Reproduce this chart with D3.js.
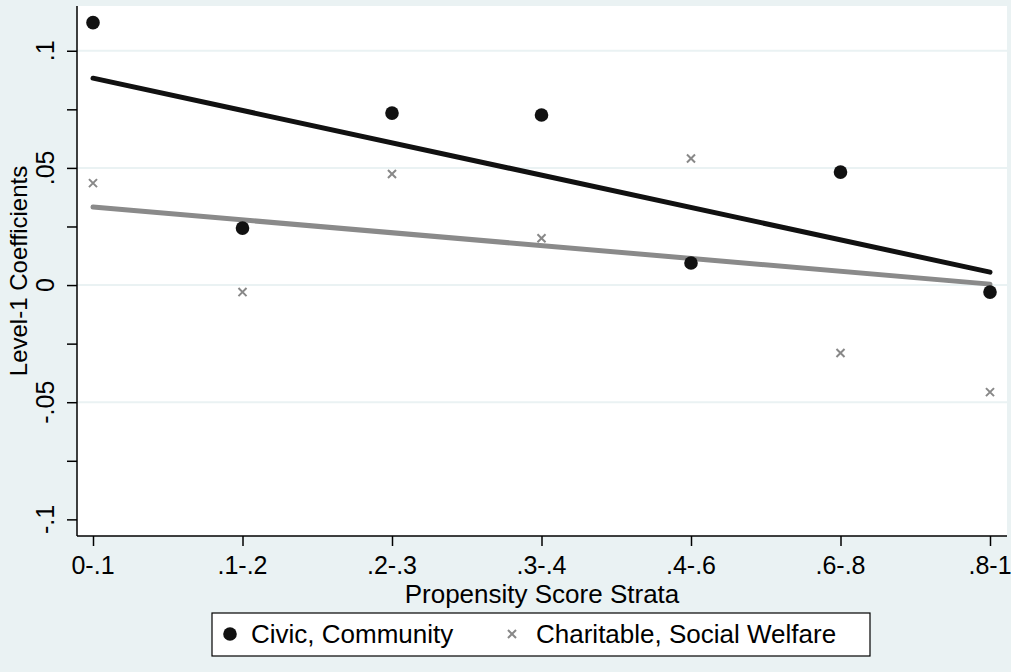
<!DOCTYPE html>
<html>
<head>
<meta charset="utf-8">
<script src="https://cdnjs.cloudflare.com/ajax/libs/d3/7.8.5/d3.min.js"></script>
<style>
  body { margin: 0; background: #eaf2f3; }
  svg { display: block; font-family: "Liberation Sans", Arial, sans-serif; }
</style>
</head>
<body>
<div id="chart"></div>
<script>
// Data
var strata = ["0-.1", ".1-.2", ".2-.3", ".3-.4", ".4-.6", ".6-.8", ".8-1"];
var civic = [0.112, 0.0243, 0.0734, 0.0726, 0.0094, 0.0482, -0.003];
var charitable = [0.0435, -0.003, 0.0474, 0.020, 0.054, -0.029, -0.0457];
// fitted lines, value at first and last stratum
var civicFit = [0.0883, 0.0055];
var charitableFit = [0.0333, 0.0004];
var yTicks = [-0.1, -0.05, 0, 0.05, 0.1];
var yMinorTicks = [-0.075, -0.025, 0.025, 0.075];
var yTickLabels = ["-.1", "-.05", "0", ".05", ".1"];
var legendLabels = ["Civic, Community", "Charitable, Social Welfare"];
var xTitle = "Propensity Score Strata";
var yTitle = "Level-1 Coefficients";

// SVG area
var svgWidth = 1011;
var svgHeight = 672;

var plot = { left: 77, right: 1007, top: 6, bottom: 536 };

var svg = d3.select("#chart")
  .append("svg")
    .attr("width", svgWidth)
    .attr("height", svgHeight);

svg.append("rect")
  .attr("width", svgWidth)
  .attr("height", svgHeight)
  .attr("fill", "#eaf2f3");

// plot region
svg.append("rect")
  .attr("x", plot.left)
  .attr("y", plot.top)
  .attr("width", plot.right - plot.left)
  .attr("height", plot.bottom - plot.top)
  .attr("fill", "#ffffff");

var xScale = d3.scalePoint()
  .domain(strata)
  .range([93, 990]);

var yScale = d3.scaleLinear()
  .domain([-0.1071, 0.1191])
  .range([plot.bottom, plot.top]);

// grid lines (not at -.1)
svg.selectAll(".grid")
  .data(yTicks.filter(d => d > -0.1))
  .enter()
  .append("line")
    .attr("class", "grid")
    .attr("x1", plot.left)
    .attr("x2", plot.right)
    .attr("y1", d => yScale(d))
    .attr("y2", d => yScale(d))
    .attr("stroke", "#eaf2f3")
    .attr("stroke-width", 2);

// y axis
var leftAxis = d3.axisLeft(yScale)
  .tickValues(yTicks.concat(yMinorTicks))
  .tickSize(10)
  .tickFormat("");

var yAxisG = svg.append("g")
  .attr("transform", `translate(${plot.left}, 0)`)
  .call(leftAxis);
yAxisG.select(".domain").remove();
yAxisG.selectAll("line").attr("stroke", "#000").attr("stroke-width", 1.5);

svg.append("line")
  .attr("x1", plot.left)
  .attr("x2", plot.left)
  .attr("y1", plot.top)
  .attr("y2", plot.bottom)
  .attr("stroke", "#000")
  .attr("stroke-width", 1.5);

svg.selectAll(".ylab")
  .data(yTicks)
  .enter()
  .append("text")
    .attr("class", "ylab")
    .attr("transform", (d, i) => `translate(54, ${yScale(d)}) rotate(-90)`)
    .attr("text-anchor", "middle")
    .style("font-size", "25px")
    .attr("fill", "#000")
    .text((d, i) => yTickLabels[i]);

// x axis
var bottomAxis = d3.axisBottom(xScale)
  .tickSize(10)
  .tickFormat("");

var xAxisG = svg.append("g")
  .attr("transform", `translate(0, ${plot.bottom})`)
  .call(bottomAxis);
xAxisG.select(".domain").remove();
xAxisG.selectAll("line").attr("stroke", "#000").attr("stroke-width", 1.5);

svg.append("line")
  .attr("x1", plot.left)
  .attr("x2", plot.right)
  .attr("y1", plot.bottom)
  .attr("y2", plot.bottom)
  .attr("stroke", "#000")
  .attr("stroke-width", 1.5);

svg.selectAll(".xlab")
  .data(strata)
  .enter()
  .append("text")
    .attr("class", "xlab")
    .attr("x", d => xScale(d))
    .attr("y", 574)
    .attr("text-anchor", "middle")
    .style("font-size", "25px")
    .attr("fill", "#000")
    .text(d => d);

// axis titles
svg.append("text")
  .attr("x", (plot.left + plot.right) / 2)
  .attr("y", 603)
  .attr("text-anchor", "middle")
  .style("font-size", "26px")
  .attr("fill", "#000")
  .text(xTitle);

svg.append("text")
  .attr("transform", `translate(27, ${(plot.top + plot.bottom) / 2}) rotate(-90)`)
  .attr("text-anchor", "middle")
  .style("font-size", "24px")
  .attr("fill", "#000")
  .text(yTitle);

// fitted lines
var first = strata[0];
var last = strata[strata.length - 1];

svg.append("line")
  .attr("x1", xScale(first))
  .attr("x2", xScale(last))
  .attr("y1", yScale(charitableFit[0]))
  .attr("y2", yScale(charitableFit[1]))
  .attr("stroke", "#8a8a8a")
  .attr("stroke-width", 5)
  .attr("stroke-linecap", "round");

svg.append("line")
  .attr("x1", xScale(first))
  .attr("x2", xScale(last))
  .attr("y1", yScale(civicFit[0]))
  .attr("y2", yScale(civicFit[1]))
  .attr("stroke", "#111")
  .attr("stroke-width", 5)
  .attr("stroke-linecap", "round");

// crosses
var cross = d3.symbol().type(d3.symbolX).size(44);

svg.selectAll(".cross")
  .data(charitable)
  .enter()
  .append("path")
    .attr("class", "cross")
    .attr("d", cross)
    .attr("transform", (d, i) => `translate(${xScale(strata[i])}, ${yScale(d)})`)
    .attr("fill", "none")
    .attr("stroke", "#888")
    .attr("stroke-width", 2);

// dots
svg.selectAll(".dot")
  .data(civic)
  .enter()
  .append("circle")
    .attr("class", "dot")
    .attr("cx", (d, i) => xScale(strata[i]))
    .attr("cy", d => yScale(d))
    .attr("r", 6.8)
    .attr("fill", "#111");

// legend
var legend = svg.append("g");

legend.append("rect")
  .attr("x", 212)
  .attr("y", 613)
  .attr("width", 658)
  .attr("height", 43)
  .attr("fill", "#fff")
  .attr("stroke", "#000")
  .attr("stroke-width", 1.2);

legend.append("circle")
  .attr("cx", 230)
  .attr("cy", 634)
  .attr("r", 6.8)
  .attr("fill", "#111");

legend.append("text")
  .attr("x", 251)
  .attr("y", 643)
  .style("font-size", "26px")
  .attr("fill", "#000")
  .text(legendLabels[0]);

legend.append("path")
  .attr("d", cross)
  .attr("transform", "translate(512, 634)")
  .attr("fill", "none")
  .attr("stroke", "#888")
  .attr("stroke-width", 2);

legend.append("text")
  .attr("x", 536)
  .attr("y", 643)
  .style("font-size", "26px")
  .attr("fill", "#000")
  .text(legendLabels[1]);
</script>
</body>
</html>
